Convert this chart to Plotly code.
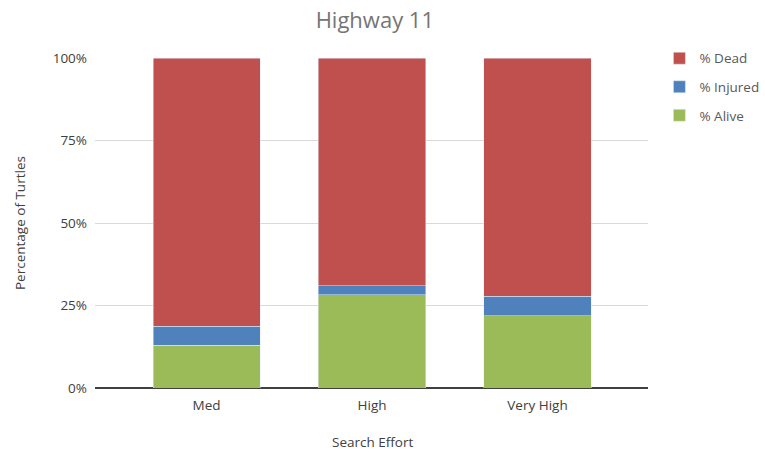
import plotly.graph_objects as go

categories = ["Med", "High", "Very High"]
alive = [13.0, 28.3, 21.9]
injured = [5.7, 2.7, 5.9]
dead = [81.3, 69.0, 72.2]
tick_vals = [0, 25, 50, 75, 100]
tick_text = ["0%", "25%", "50%", "75%", "100%"]

font_family = "Open Sans, Lato, sans-serif"

fig = go.Figure()
fig.add_trace(go.Bar(name="% Alive", x=categories, y=alive, marker_color="#9BBB59", width=0.647,
                     legendgroup="a", legendrank=3))
fig.add_trace(go.Bar(name="% Injured", x=categories, y=injured, marker_color="#4F81BD", width=0.647,
                     legendgroup="b", legendrank=2))
fig.add_trace(go.Bar(name="% Dead", x=categories, y=dead, marker_color="#C0504D", width=0.647,
                     legendgroup="c", legendrank=1))

fig.update_layout(
    barmode="stack",
    width=765, height=452,
    margin=dict(l=95, r=117, t=58, b=64, autoexpand=False),
    paper_bgcolor="white", plot_bgcolor="white",
    font=dict(family=font_family, size=13, color="#595959"),
    title=dict(text="Highway 11", x=0.49, xanchor="center", y=0.955, yanchor="middle",
               font=dict(size=22, color="#757575", family=font_family)),
    legend=dict(traceorder="grouped", xref="container", yref="container",
                x=0.862, xanchor="left", y=0.905, yanchor="top",
                font=dict(size=13.5, color="#595959"), itemwidth=30, tracegroupgap=8),
    xaxis=dict(type="category", range=[-0.674, 2.668], showgrid=False, ticks="",
               automargin=False, tickfont=dict(size=13.5, color="#404040"), showline=False,
               ticklabelstandoff=7),
    yaxis=dict(range=[0, 100], tickvals=tick_vals, ticktext=tick_text, showgrid=True,
               gridcolor="#D9D9D9", gridwidth=1, zeroline=True, zerolinecolor="#404040",
               zerolinewidth=1.5, ticks="", ticklen=0, automargin=False,
               tickfont=dict(size=13.5, color="#404040"), ticklabelstandoff=7),
    annotations=[
        dict(text="Search Effort", xref="paper", yref="paper", x=0.501, y=-0.1636,
             xanchor="center", yanchor="middle", showarrow=False,
             font=dict(size=13.5, color="#404040")),
        dict(text="Percentage of Turtles", xref="paper", yref="paper", x=-0.1356, y=0.5,
             xanchor="center", yanchor="middle", showarrow=False, textangle=-90,
             font=dict(size=13.5, color="#404040")),
    ],
)

fig.write_html("out.html")
